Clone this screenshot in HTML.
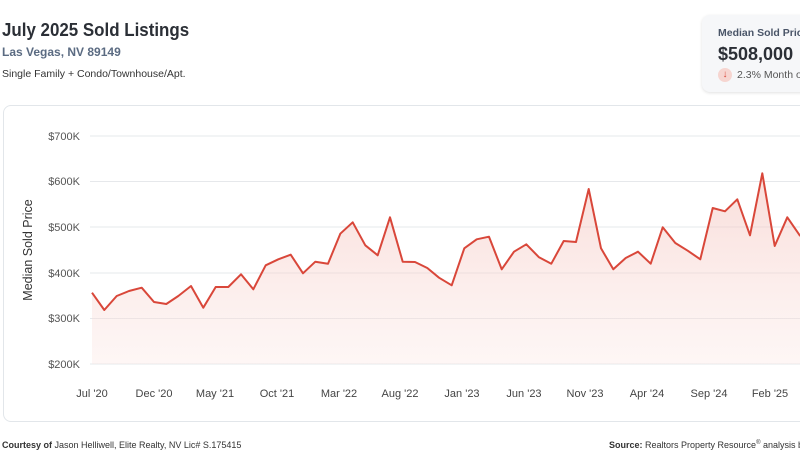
<!DOCTYPE html>
<html><head><meta charset="utf-8"><style>
body{margin:0;width:800px;height:470px;overflow:hidden;background:#fff;font-family:"Liberation Sans",sans-serif;position:relative}
.t{position:absolute;left:2px;top:20px;font-size:18px;font-weight:bold;color:#2b2f36;transform:scaleX(0.94);transform-origin:0 0;white-space:nowrap}
.s{position:absolute;left:2px;top:45px;font-size:12px;font-weight:bold;color:#5b6b82}
.d{position:absolute;left:2px;top:68px;font-size:10.5px;color:#333}
.card{position:absolute;left:702px;top:15px;width:120px;height:77px;background:#f6f7f9;border-radius:8px;box-shadow:0 1px 3px rgba(0,0,0,.12)}
.box{position:absolute;left:3px;top:105px;width:820px;height:315px;border:1px solid #e2e6ea;border-radius:8px}
.f{position:absolute;top:440px;font-size:9px;color:#333}
</style></head><body>
<div class="t">July 2025 Sold Listings</div>
<div class="s">Las Vegas, NV 89149</div>
<div class="d">Single Family + Condo/Townhouse/Apt.</div>
<div class="card">
<div style="position:absolute;left:16px;top:12px;font-size:10.5px;font-weight:bold;color:#4a5568;white-space:nowrap">Median Sold Price</div>
<div style="position:absolute;left:16px;top:29px;font-size:18px;font-weight:bold;color:#2b2f36">$508,000</div>
<div style="position:absolute;left:16px;top:53px;width:14px;height:14px;border-radius:7px;background:#f6d5d0;color:#d9473a;font-size:10px;text-align:center;line-height:14px">↓</div>
<div style="position:absolute;left:35px;top:54px;font-size:10.5px;color:#555;white-space:nowrap">2.3% Month o</div>
</div>
<div class="box"></div>
<svg width="800" height="470" style="position:absolute;left:0;top:0">
<defs><linearGradient id="g" x1="0" y1="0" x2="0" y2="1"><stop offset="0" stop-color="#f3bcb5" stop-opacity=".5"/><stop offset="1" stop-color="#fbe6e3" stop-opacity=".35"/></linearGradient></defs>
<g stroke="#e6e8eb" stroke-width="1">
<line x1="90" x2="800" y1="136" y2="136"/><line x1="90" x2="800" y1="181.5" y2="181.5"/><line x1="90" x2="800" y1="227" y2="227"/><line x1="90" x2="800" y1="273" y2="273"/><line x1="90" x2="800" y1="318.5" y2="318.5"/><line x1="90" x2="800" y1="364" y2="364"/></g>
<g font-size="11" fill="#555" text-anchor="end"><text x="80" y="140">$700K</text><text x="80" y="185">$600K</text><text x="80" y="231">$500K</text><text x="80" y="277">$400K</text><text x="80" y="322">$300K</text><text x="80" y="368">$200K</text></g>
<text transform="translate(32,250) rotate(-90)" font-size="12.5" fill="#333" text-anchor="middle">Median Sold Price</text>
<g font-size="11" fill="#444" text-anchor="middle"><text x="92" y="397">Jul '20</text><text x="154" y="397">Dec '20</text><text x="215" y="397">May '21</text><text x="277" y="397">Oct '21</text><text x="339" y="397">Mar '22</text><text x="400" y="397">Aug '22</text><text x="462" y="397">Jan '23</text><text x="524" y="397">Jun '23</text><text x="585" y="397">Nov '23</text><text x="647" y="397">Apr '24</text><text x="709" y="397">Sep '24</text><text x="770" y="397">Feb '25</text></g>
<path d="M92,292.7 L104.3,310 L116.7,296 L129,291 L141.7,287.7 L154,302 L166.3,304 L178.3,296 L191,286 L203.3,307.7 L215.7,287 L228.3,287 L241,274.3 L253.3,289.3 L265.7,265.3 L278.3,259.3 L290.7,254.7 L303,273.3 L315.3,261.7 L328,263.7 L340.3,233.7 L352.7,222.3 L365.3,245.3 L377.7,255.3 L390,217.3 L402.7,261.7 L415,262 L427.3,268 L439,277.7 L451.7,285.3 L464.3,248.3 L476.7,239.3 L489,236.7 L501.7,269.3 L514,251.7 L526.3,244.3 L539,257.3 L551.3,263.7 L563.7,241 L576,242 L588.7,189 L601,248.3 L613.3,269.3 L625.7,258 L638,251.7 L650.7,263.7 L662.7,227.3 L675.3,243 L687.7,250.7 L700.3,259.3 L712.7,208 L725,211.3 L737.3,199.3 L750,235.3 L762.3,173.3 L774.7,246 L787.3,217.3 L799.7,235.3 L812,245 L812,364 L92,364 Z" fill="url(#g)"/>
<path d="M92,292.7 L104.3,310 L116.7,296 L129,291 L141.7,287.7 L154,302 L166.3,304 L178.3,296 L191,286 L203.3,307.7 L215.7,287 L228.3,287 L241,274.3 L253.3,289.3 L265.7,265.3 L278.3,259.3 L290.7,254.7 L303,273.3 L315.3,261.7 L328,263.7 L340.3,233.7 L352.7,222.3 L365.3,245.3 L377.7,255.3 L390,217.3 L402.7,261.7 L415,262 L427.3,268 L439,277.7 L451.7,285.3 L464.3,248.3 L476.7,239.3 L489,236.7 L501.7,269.3 L514,251.7 L526.3,244.3 L539,257.3 L551.3,263.7 L563.7,241 L576,242 L588.7,189 L601,248.3 L613.3,269.3 L625.7,258 L638,251.7 L650.7,263.7 L662.7,227.3 L675.3,243 L687.7,250.7 L700.3,259.3 L712.7,208 L725,211.3 L737.3,199.3 L750,235.3 L762.3,173.3 L774.7,246 L787.3,217.3 L799.7,235.3 L812,245" fill="none" stroke="#d9473a" stroke-width="2" stroke-linejoin="round"/>
</svg>
<div class="f" style="left:2px"><b>Courtesy of</b> Jason Helliwell, Elite Realty, NV Lic# S.175415</div>
<div class="f" style="left:609px;white-space:nowrap"><b>Source:</b> Realtors Property Resource<sup style="font-size:6px">®</sup> analysis ba</div>
</body></html>
